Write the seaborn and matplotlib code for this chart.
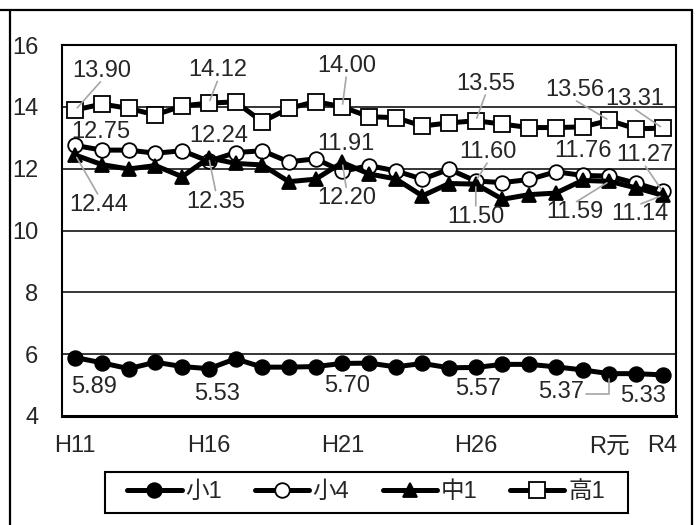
import numpy as np
import matplotlib
matplotlib.use("Agg")
import matplotlib.pyplot as plt
import seaborn as sns
from matplotlib.lines import Line2D
from matplotlib.patches import Rectangle

# survey years (R2 was not surveyed)
years = ["H11", "H12", "H13", "H14", "H15", "H16", "H17", "H18", "H19", "H20",
         "H21", "H22", "H23", "H24", "H25", "H26", "H27", "H28", "H29", "H30",
         "R元", "R3", "R4"]
tick_years = ["H11", "H16", "H21", "H26", "R元", "R4"]

series_names = ["小1", "小4", "中1", "高1"]
sho1 = [5.89, 5.72, 5.53, 5.74, 5.60, 5.53, 5.85, 5.58, 5.58, 5.60, 5.70, 5.71,
        5.59, 5.70, 5.56, 5.57, 5.67, 5.67, 5.59, 5.49, 5.37, 5.37, 5.33]
sho4 = [12.75, 12.60, 12.60, 12.50, 12.58, 12.24, 12.52, 12.58, 12.22, 12.32,
        11.91, 12.10, 11.93, 11.66, 11.98, 11.60, 11.55, 11.65, 11.90, 11.78,
        11.76, 11.53, 11.27]
chu1 = [12.44, 12.13, 11.99, 12.10, 11.74, 12.35, 12.17, 12.12, 11.58, 11.66,
        12.20, 11.83, 11.67, 11.12, 11.52, 11.50, 11.01, 11.16, 11.21, 11.62,
        11.59, 11.38, 11.14]
ko1 = [13.90, 14.09, 13.95, 13.74, 14.03, 14.12, 14.16, 13.52, 13.95, 14.17,
       14.00, 13.68, 13.65, 13.38, 13.48, 13.55, 13.44, 13.33, 13.33, 13.35,
       13.56, 13.29, 13.31]
series_values = [sho1, sho4, chu1, ko1]

sns.set_style("white")
FS = 17
plt.rcParams["font.family"] = ["Liberation Sans", "Noto Sans CJK JP", "DejaVu Sans"]

W, H = 696, 525
fig = plt.figure(figsize=(W / 100, H / 100), dpi=100)
ax = fig.add_axes([62 / W, 109 / H, 614 / W, 371 / H])

x = np.arange(len(years))
marker_styles = [
    dict(marker="o", markerfacecolor="black", markersize=10.5),
    dict(marker="o", markerfacecolor="white", markersize=10.5),
    dict(marker="^", markerfacecolor="black", markersize=10.5),
    dict(marker="s", markerfacecolor="white", markersize=11),
]
for name, vals, mst in zip(series_names, series_values, marker_styles):
    sns.lineplot(x=x, y=vals, ax=ax, color="black", lw=3.6, label=name,
                 markeredgecolor="black", markeredgewidth=1.3, legend=False,
                 **mst)

ax.set_xlim(-0.5, len(years) - 0.5)
ax.set_ylim(4, 16)
ax.set_yticks(range(4, 17, 2))
tick_pos = [years.index(t) for t in tick_years]
ax.set_xticks(tick_pos)
ax.set_xticklabels(tick_years)
ax.set_xlabel("")
ax.set_ylabel("")
ax.tick_params(axis="both", length=0, labelsize=FS)
ax.tick_params(axis="y", pad=17)
ax.tick_params(axis="x", pad=14)
ax.yaxis.grid(True, color="black", lw=1.1)
ax.xaxis.grid(False)
ax.set_axisbelow(True)
for side, sp in ax.spines.items():
    sp.set_visible(True)
    sp.set_color("black")
    sp.set_linewidth(1.5)
ax.spines["bottom"].set_linewidth(2.2)

# value labels: (series, index, dx px, dy px, leader line)
label_specs = [
    (3, 0, 26, 39, True), (3, 5, 9, 33, True), (3, 10, 4, 41, True),
    (3, 15, 10, 37, True), (3, 20, -34, 30, True), (3, 22, -28, 29, True),
    (1, 0, 25, 13, False), (1, 5, 10, 25, False), (1, 10, 4, 27, False),
    (1, 15, 12, 29, True), (1, 20, -26, 25, False), (1, 22, -18, 36, True),
    (2, 0, 23, -50, True), (2, 5, 7, -44, True), (2, 10, 4, -36, True),
    (2, 15, 0, -33, True), (2, 20, -34, -31, True), (2, 22, -23, -19, True),
    (0, 0, 19, -29, False), (0, 5, 8, -25, False), (0, 10, 5, -23, False),
    (0, 15, 2, -22, False), (0, 20, -48, -18, True), (0, 22, -20, -21, False),
]
for s, i, dx, dy, leader in label_specs:
    v = series_values[s][i]
    props = None
    if leader:
        props = dict(arrowstyle="-", color="#a6a6a6", lw=1.2, patchA=None,
                     shrinkA=1, shrinkB=2,
                     relpos=(0.5, 0.05) if dy > 0 else (0.5, 0.95))
        if s == 0:
            props["relpos"] = (1.0, 0.4)
            props["connectionstyle"] = "angle,angleA=0,angleB=90,rad=0"
            props["shrinkB"] = 4
    ax.annotate(f"{v:.2f}", xy=(i, v), xytext=(dx, dy), textcoords="offset pixels",
                ha="center", va="center", fontsize=FS, arrowprops=props,
                annotation_clip=False, zorder=5)

# legend with its own box
handles, labels = ax.get_legend_handles_labels()
fig.legend(handles, labels, loc="center", bbox_to_anchor=(366 / W, 1 - 492 / H),
           ncol=4, frameon=False, fontsize=FS, handlelength=2.3,
           handletextpad=0.15, columnspacing=1.4)
fig.add_artist(Rectangle((105 / W, 1 - 513 / H), 523 / W, 41 / H,
                         transform=fig.transFigure, fill=False,
                         edgecolor="black", lw=1.5))

# outer chart frame
top = 1 - 10 / H
fig.add_artist(Line2D([0, 692 / W], [top, top], transform=fig.transFigure,
                      color="black", lw=1.6))
fig.add_artist(Line2D([10 / W, 10 / W], [0, top], transform=fig.transFigure,
                      color="black", lw=1.6))
fig.add_artist(Line2D([692 / W, 692 / W], [0, top], transform=fig.transFigure,
                      color="black", lw=1.6))

fig.savefig("out.png", dpi=100)
